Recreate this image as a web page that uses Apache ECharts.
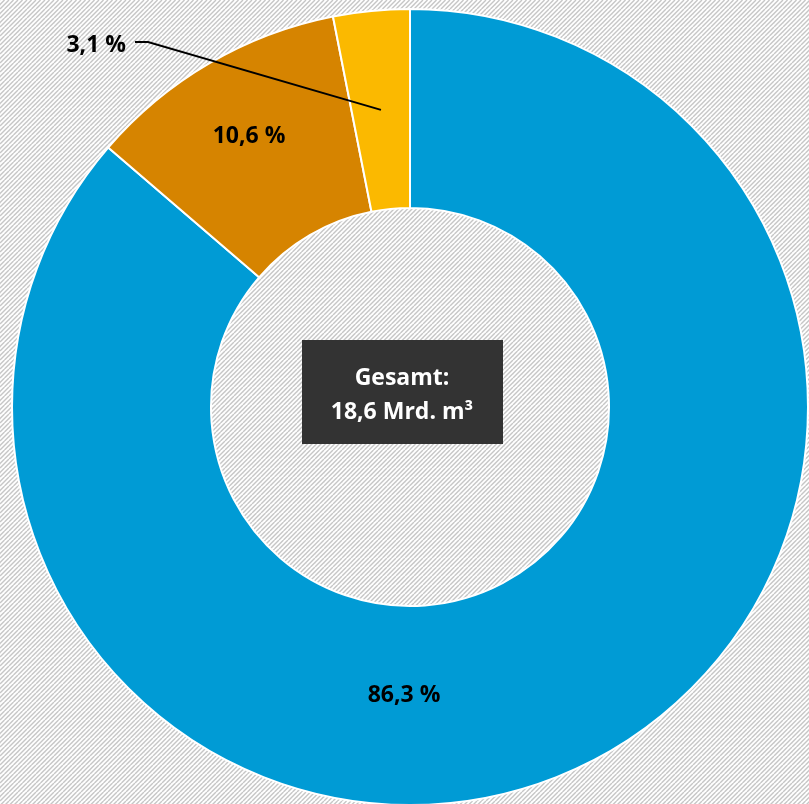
<!DOCTYPE html>
<html><head><meta charset="utf-8">
<script src="https://cdn.jsdelivr.net/npm/echarts@6/dist/echarts.min.js"></script>
<style>html,body{margin:0;padding:0;background:#fff}#c{width:809px;height:804px}</style>
</head><body><div id="c"></div>
<script>
// ---- data ----
const categories = ['Anteil 1', 'Anteil 2', 'Anteil 3'];
const values = [86.3, 10.6, 3.1];
const valueLabels = ['86,3 %', '10,6 %', '3,1 %'];
const totalLines = ['Gesamt:', '18,6 Mrd. m³'];

// ---- styles / layout ----
const colors = ['#009bd5', '#d68400', '#fbb900'];
const CENTER = [410, 407];
const R_IN = 199, R_OUT = 398;
const labelPos = [[404, 695, 'center'], [249, 136, 'center'], [126, 45, 'right']];
const FONT = '"Open Sans", "DejaVu Sans", sans-serif';
const FS = 23;

// hatched background
const tile = document.createElement('canvas');
tile.width = 9; tile.height = 9;
const tc = tile.getContext('2d');
tc.fillStyle = '#ffffff'; tc.fillRect(0, 0, 9, 9);
tc.strokeStyle = '#c6c6c6'; tc.lineWidth = 1.4;
for (let k = -2; k <= 5; k++) {
  const o = k * 4.5;
  tc.beginPath(); tc.moveTo(o, 9); tc.lineTo(o + 9, 0); tc.stroke();
}

const total = values.reduce((a, b) => a + b, 0);
function midRingPoint(i) {
  let before = 0;
  for (let j = 0; j < i; j++) before += values[j];
  const frac = (before + values[i] / 2) / total;
  const ang = frac * 2 * Math.PI; // clockwise from top
  const r = (R_IN + R_OUT) / 2;
  return [CENTER[0] + r * Math.sin(ang), CENTER[1] - r * Math.cos(ang)];
}

const chart = echarts.init(document.getElementById('c'));
chart.setOption({
  backgroundColor: { image: tile, repeat: 'repeat' },
  animation: false,
  series: [{
    type: 'pie',
    center: CENTER,
    radius: [R_IN, R_OUT],
    startAngle: 90,
    clockwise: true,
    avoidLabelOverlap: false,
    itemStyle: { borderColor: '#ffffff', borderWidth: 2 },
    label: {
      show: true,
      formatter: p => valueLabels[p.dataIndex],
      fontFamily: FONT, fontWeight: 'bold', fontSize: FS, color: '#000'
    },
    labelLine: { show: false },
    data: values.map((v, i) => ({
      name: categories[i], value: v,
      itemStyle: { color: colors[i] },
      label: { position: i === 2 ? 'outside' : 'inside' }
    })),
    labelLayout: p => {
      const lp = labelPos[p.dataIndex];
      return { x: lp[0], y: lp[1], align: lp[2], verticalAlign: 'middle' };
    }
  }],
  graphic: [
    { type: 'polyline', z: 100, shape: { points: [[135, 42], [148, 42], midRingPoint(2)] },
      style: { stroke: '#000', lineWidth: 1.9, fill: null } },
    { type: 'rect', z: 100, shape: { x: 302, y: 340, width: 201, height: 104 }, style: { fill: '#333333' } },
    { type: 'text', z: 101, x: 402, y: 395, style: {
      text: totalLines.join('\n'), fill: '#ffffff', align: 'center', verticalAlign: 'middle',
      font: 'bold ' + FS + 'px ' + FONT, lineHeight: 34 } }
  ]
});
</script></body></html>
